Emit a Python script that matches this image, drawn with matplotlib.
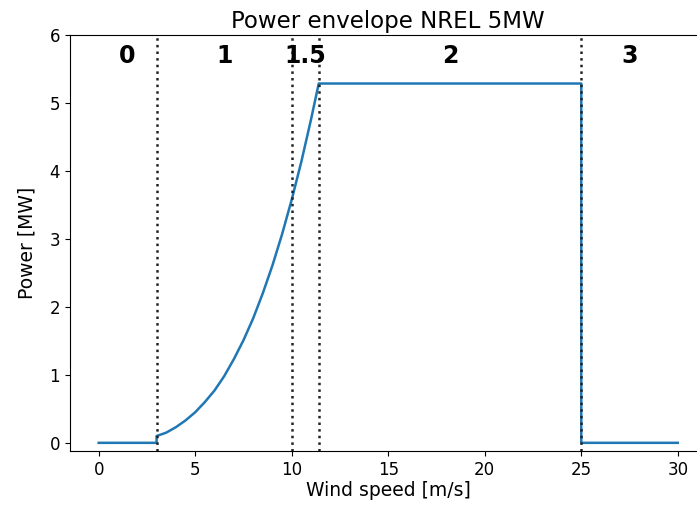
import matplotlib
matplotlib.use("Agg")
import matplotlib.pyplot as plt

# Wind speed [m/s] and power [MW]
wind_speed = [0.0, 3.0, 3.0, 3.5, 4.0, 4.5, 5.0, 5.5, 6.0, 6.5, 7.0, 7.5, 8.0,
              8.5, 9.0, 9.5, 10.0, 10.5, 11.0, 11.4, 25.0, 25.0, 30.0]
power_mw = [0.0, 0.0, 0.10, 0.15, 0.23, 0.33, 0.45, 0.60, 0.77, 0.98, 1.23,
            1.51, 1.83, 2.20, 2.61, 3.07, 3.58, 4.14, 4.76, 5.29, 5.29, 0.0, 0.0]

region_bounds = [3.0, 10.0, 11.4, 25.0]
region_labels = ["0", "1", "1.5", "2", "3"]
region_label_x = [1.5, 6.5, 10.7, 18.2, 27.5]
region_label_y = 5.7

fig = plt.figure(figsize=(6.97, 5.13), dpi=100)
ax = fig.add_axes([0.1, 0.1209, 0.914, 0.8103])

ax.plot(wind_speed, power_mw, color="#1f77b4", linewidth=1.8)
for xb in region_bounds:
    ax.axvline(xb, color="#222222", linestyle=":", linewidth=1.8)
for lab, lx in zip(region_labels, region_label_x):
    ax.text(lx, region_label_y, lab, ha="center", va="center",
            fontsize=17, fontweight="bold")

ax.set_xlim(-1.5, 31.5)
ax.set_ylim(-0.12, 6)
ax.set_xticks([0, 5, 10, 15, 20, 25, 30])
ax.set_yticks([0, 1, 2, 3, 4, 5, 6])
ax.set_title("Power envelope NREL 5MW", fontsize=16.5, pad=5)
ax.set_xlabel("Wind speed [m/s]", fontsize=13.5, labelpad=2)
ax.set_ylabel("Power [MW]", fontsize=13.5, labelpad=9)
ax.tick_params(labelsize=12)

fig.savefig("out.png", dpi=100)
